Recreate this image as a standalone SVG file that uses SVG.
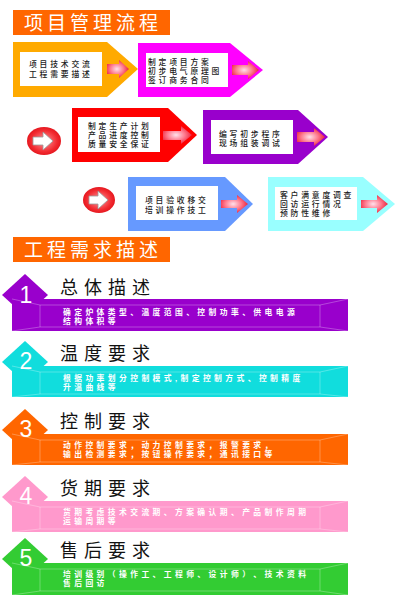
<svg xmlns="http://www.w3.org/2000/svg" width="400" height="600" viewBox="0 0 400 600">
<defs>
<radialGradient id="ag" cx="0.45" cy="0.5" r="0.6">
<stop offset="0" stop-color="#FFE0EA"/>
<stop offset="0.5" stop-color="#FF7A8E"/>
<stop offset="1" stop-color="#E8102A"/>
</radialGradient>
<radialGradient id="cg" cx="0.5" cy="0.5" r="0.55">
<stop offset="0" stop-color="#FF9AA0"/>
<stop offset="0.7" stop-color="#F22A30"/>
<stop offset="1" stop-color="#E01018"/>
</radialGradient>
<style>
.box-t{font-family:"Liberation Sans","Noto Sans CJK SC",sans-serif;font-size:7.8px;font-weight:500;fill:#222;letter-spacing:2.8px}
.hd{font-family:"Liberation Sans","Noto Sans CJK SC",sans-serif;font-size:19px;fill:#fff;letter-spacing:4px}
.st{font-family:"Liberation Sans","Noto Sans CJK SC",sans-serif;font-size:18px;fill:#111;letter-spacing:6px}
.bt{font-family:"Liberation Sans","Noto Sans CJK SC",sans-serif;font-size:7.8px;font-weight:bold;fill:#fff;letter-spacing:3.4px}
.num{font-family:"Liberation Sans",Arial,sans-serif;font-size:23px;fill:#fff;text-anchor:middle}
.bev{fill:none;stroke:#fff;stroke-opacity:0.35;stroke-width:0.8}
.inner{fill:#fff}
.arr{fill:url(#ag)}
.carr{fill:#fff;stroke:#999;stroke-width:0.8}
</style>
</defs>
<rect width="400" height="600" fill="#fff"/>

<g id="title1">
<rect x="13" y="10" width="157" height="25" fill="#FF6600"/>
<text class="hd" x="24" y="30">项目管理流程</text>
</g>

<g id="step1">
<path d="M13,42 H107 L138,69 L107,97 H13 Z" fill="#FFAA00"/>
<rect class="inner" x="20" y="52" width="82" height="34"/>
<text class="box-t"><tspan x="29" y="67">项目技术交流</tspan><tspan x="29" y="76.5">工程需要描述</tspan></text>
</g>

<g id="step2">
<path d="M138,43 H230 L263,70 L230,97 H138 Z" fill="#FF00FF"/>
<rect class="inner" x="146" y="53" width="82" height="34"/>
<text class="box-t"><tspan x="148" y="65">制定项目方案</tspan><tspan x="148" y="74">初步电气原理图</tspan><tspan x="148" y="83">签订商务合同</tspan></text>
</g>

<g id="step3">
<path d="M72,108 H168 L197,135 L168,162 H72 Z" fill="#FF0000"/>
<rect class="inner" x="78" y="117" width="82" height="35"/>
<text class="box-t"><tspan x="88" y="129">制定生产计划</tspan><tspan x="88" y="138">产品进度控制</tspan><tspan x="88" y="147">质量安全保证</tspan></text>
</g>

<g id="step4">
<path d="M203,110 H298 L328,137 L298,164 H203 Z" fill="#9900CC"/>
<rect class="inner" x="211" y="120" width="82" height="34"/>
<text class="box-t"><tspan x="219" y="136.5">编写初步程序</tspan><tspan x="219" y="146">现场组装调试</tspan></text>
</g>

<g id="step5">
<path d="M128,177 H225 L253,204 L225,231 H128 Z" fill="#6699FF"/>
<rect class="inner" x="136" y="186" width="82" height="34"/>
<text class="box-t"><tspan x="145" y="203">项目验收移交</tspan><tspan x="145" y="212.5">培训操作技工</tspan></text>
</g>

<g id="step6">
<path d="M268,177 H363 L395,204 L363,231 H268 Z" fill="#99FFFF"/>
<rect class="inner" x="275" y="187" width="82" height="33"/>
<text class="box-t"><tspan x="280" y="198">客户满意度调查</tspan><tspan x="280" y="207">回访运行情况</tspan><tspan x="280" y="216">预防性维修</tspan></text>
</g>

<g id="connectors">
<path class="arr" d="M107,64 H119 V60 L129,69 L119,78 V74 H107 Z"/>
<path class="arr" d="M232,65 H248 V61 L259,70 L248,79 V75 H232 Z"/>
<path class="arr" d="M163,131 H181 V126 L192,135 L181,144 V140 H163 Z"/>
<path class="arr" d="M297,132 H314 V128 L325,137 L314,146 V142 H297 Z"/>
<path class="arr" d="M221,200 H237 V195 L248,204 L237,213 V208 H221 Z"/>
<path class="arr" d="M361,200 H377 V195 L388,204 L377,213 V208 H361 Z"/>
<ellipse cx="44" cy="141" rx="17" ry="14" fill="url(#cg)"/>
<path class="carr" d="M33,137 H43 V132 L53,141 L43,150 V145 H33 Z"/>
<ellipse cx="99" cy="200" rx="16" ry="13" fill="url(#cg)"/>
<path class="carr" d="M89,196 H98 V191 L108,200 L98,209 V204 H89 Z"/>
</g>

<g id="title2">
<rect x="13" y="237" width="157" height="25" fill="#FF6600"/>
<text class="hd" x="24" y="257">工程需求描述</text>
</g>

<g id="sec1">
<rect x="12" y="299" width="336" height="32" fill="#9900CC"/>
<polygon points="2,295 25,274 48,295 25,316" fill="#9900CC"/>
<path class="bev" d="M40,305 H320 V327 H40 Z M12,299 L40,305 M348,299 L320,305 M12,331 L40,327 M348,331 L320,327"/>
<text class="num" x="26" y="303">1</text>
<text class="st" x="60" y="294">总体描述</text>
<text class="bt"><tspan x="63" y="315">确定炉体类型、温度范围、控制功率、供电电源</tspan><tspan x="63" y="324">结构体积等</tspan></text>
</g>

<g id="sec2">
<rect x="12" y="366" width="336" height="31" fill="#11DDDD"/>
<polygon points="2,362 25,341 48,362 25,383" fill="#11DDDD"/>
<path class="bev" d="M40,372 H320 V394 H40 Z M12,366 L40,372 M348,366 L320,372 M12,397 L40,394 M348,397 L320,394"/>
<text class="num" x="26" y="369">2</text>
<text class="st" x="60" y="360">温度要求</text>
<text class="bt"><tspan x="63" y="381">根据功率划分控制模式,制定控制方式、控制精度</tspan><tspan x="63" y="390">升温曲线等</tspan></text>
</g>

<g id="sec3">
<rect x="12" y="434" width="336" height="31" fill="#FF6600"/>
<polygon points="2,430 25,409 48,430 25,451" fill="#FF6600"/>
<path class="bev" d="M40,440 H320 V462 H40 Z M12,434 L40,440 M348,434 L320,440 M12,465 L40,462 M348,465 L320,462"/>
<text class="num" x="26" y="437">3</text>
<text class="st" x="60" y="428">控制要求</text>
<text class="bt"><tspan x="63" y="448">动作控制要求，动力控制要求，报警要求，</tspan><tspan x="63" y="457">输出检测要求，按钮操作要求，通讯接口等</tspan></text>
</g>

<g id="sec4">
<rect x="12" y="501" width="336" height="31" fill="#FF99CC"/>
<polygon points="2,497 25,476 48,497 25,518" fill="#FF99CC"/>
<path class="bev" d="M40,507 H320 V529 H40 Z M12,501 L40,507 M348,501 L320,507 M12,532 L40,529 M348,532 L320,529"/>
<text class="num" x="26" y="504">4</text>
<text class="st" x="60" y="495">货期要求</text>
<text class="bt"><tspan x="63" y="515">货期考虑技术交流期、方案确认期、产品制作周期</tspan><tspan x="63" y="524">运输周期等</tspan></text>
</g>

<g id="sec5">
<rect x="12" y="563" width="336" height="32" fill="#33CC33"/>
<polygon points="2,559 25,538 48,559 25,580" fill="#33CC33"/>
<path class="bev" d="M40,569 H320 V591 H40 Z M12,563 L40,569 M348,563 L320,569 M12,595 L40,591 M348,595 L320,591"/>
<text class="num" x="26" y="566">5</text>
<text class="st" x="60" y="557">售后要求</text>
<text class="bt"><tspan x="63" y="577">培训级别（操作工、工程师、设计师）、技术资料</tspan><tspan x="63" y="586">售后回访</tspan></text>
</g>
</svg>
